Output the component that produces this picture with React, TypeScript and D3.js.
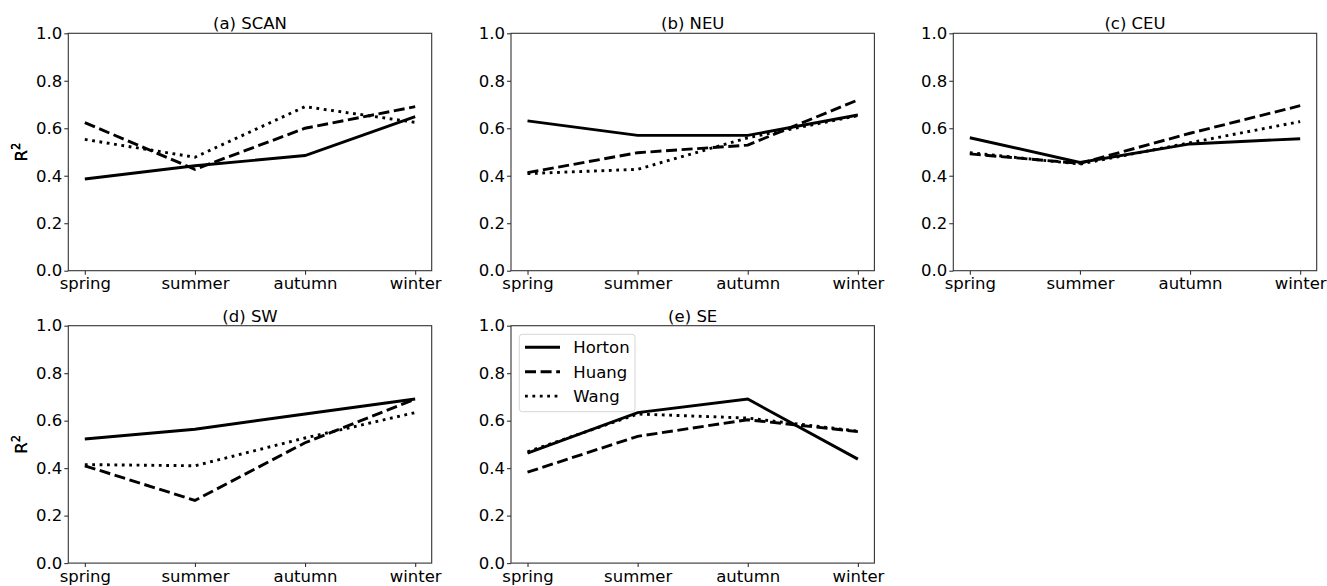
import { useEffect, useRef } from "react";
import * as d3 from "d3";

const seasons = ["spring", "summer", "autumn", "winter"];
const regionTitles = ["(a) SCAN", "(b) NEU", "(c) CEU", "(d) SW", "(e) SE"];
const models = ["Horton", "Huang", "Wang"];
const yTicks = [0, 0.2, 0.4, 0.6, 0.8, 1.0];

// R² per region (SCAN, NEU, CEU, SW, SE), per season
const hortonR2 = [
  [0.386, 0.442, 0.485, 0.649],
  [0.631, 0.57, 0.57, 0.656],
  [0.56, 0.456, 0.534, 0.556],
  [0.523, 0.564, 0.628, 0.691],
  [0.463, 0.634, 0.691, 0.438],
];
const huangR2 = [
  [0.624, 0.427, 0.6, 0.691],
  [0.413, 0.497, 0.529, 0.719],
  [0.492, 0.452, 0.579, 0.695],
  [0.41, 0.264, 0.507, 0.691],
  [0.383, 0.534, 0.604, 0.554],
];
const wangR2 = [
  [0.553, 0.478, 0.691, 0.625],
  [0.409, 0.427, 0.56, 0.653],
  [0.497, 0.449, 0.539, 0.628],
  [0.415, 0.41, 0.527, 0.634],
  [0.469, 0.628, 0.611, 0.556],
];

const WIDTH = 1327;
const HEIGHT = 586;
const FONT = "'DejaVu Sans', sans-serif";
const FS = 16.5;
const dashes = ["none", "11,4.6", "2.8,4.6"];

export default function App() {
  const svgRef = useRef<SVGSVGElement>(null);

  useEffect(() => {
    if (!svgRef.current) return;
    const svg = d3.select(svgRef.current);
    svg.selectAll("*").remove();

    const colX = [68.3, 511, 953.3];
    const rowY = [33.3, 325.7];
    const w = 363.4;
    const h = 237.4;
    const series = [hortonR2, huangR2, wangR2];

    const x = d3.scalePoint<string>().domain(seasons).range([0, w]).padding(0.15);
    const y = d3.scaleLinear().domain([0, 1]).range([h, 0]);

    regionTitles.forEach((title, i) => {
      const g = svg
        .append("g")
        .attr("transform", `translate(${colX[i % 3]},${rowY[Math.floor(i / 3)]})`);

      // axes
      g.append("g")
        .attr("transform", `translate(0,${h})`)
        .call(d3.axisBottom(x).tickSize(4).tickPadding(3))
        .call((a) => a.select(".domain").remove())
        .call((a) => a.selectAll(".tick line").attr("stroke", "#333").attr("stroke-width", 1.1))
        .call((a) =>
          a.selectAll("text").attr("fill", "#000").attr("font-size", FS).attr("font-family", FONT)
        );

      g.append("g")
        .call(
          d3
            .axisLeft(y)
            .tickValues(yTicks)
            .tickFormat(d3.format(".1f"))
            .tickSize(4)
            .tickPadding(2)
        )
        .call((a) => a.select(".domain").remove())
        .call((a) => a.selectAll(".tick line").attr("stroke", "#333").attr("stroke-width", 1.1))
        .call((a) =>
          a.selectAll("text").attr("fill", "#000").attr("font-size", FS).attr("font-family", FONT)
        );

      // data lines
      const line = d3
        .line<number>()
        .x((_, j) => x(seasons[j]) as number)
        .y((d) => y(d));

      series.forEach((s, k) => {
        g.append("path")
          .datum(s[i])
          .attr("d", line)
          .attr("fill", "none")
          .attr("stroke", "#000")
          .attr("stroke-width", 2.9)
          .attr("stroke-dasharray", dashes[k])
          .attr("stroke-linecap", "butt");
      });

      // frame
      g.append("rect")
        .attr("width", w)
        .attr("height", h)
        .attr("fill", "none")
        .attr("stroke", "#333")
        .attr("stroke-width", 1.1);

      g.append("text")
        .attr("x", w / 2)
        .attr("y", -4)
        .attr("text-anchor", "middle")
        .attr("font-size", FS)
        .attr("font-family", FONT)
        .text(title);

      // y label: R with superscript 2
      const yl = g
        .append("text")
        .attr("transform", `translate(${27 - colX[i % 3]},${h / 2}) rotate(-90)`)
        .attr("text-anchor", "middle")
        .attr("font-size", FS)
        .attr("font-family", FONT);
      yl.append("tspan").text("R");
      yl.append("tspan").attr("font-size", 11.5).attr("dy", -7).text("2");

      // legend in last panel
      if (i === 4) {
        const lg = g.append("g").attr("transform", "translate(8.3,8.6)");
        lg.append("rect")
          .attr("width", 115.7)
          .attr("height", 77.4)
          .attr("rx", 3)
          .attr("fill", "#fff")
          .attr("fill-opacity", 0.8)
          .attr("stroke", "#d6d6d6")
          .attr("stroke-width", 1);
        models.forEach((m, k) => {
          const cy = 13 + k * 24.4;
          lg.append("line")
            .attr("x1", 5.7)
            .attr("x2", 40.7)
            .attr("y1", cy)
            .attr("y2", cy)
            .attr("stroke", "#000")
            .attr("stroke-width", 2.9)
            .attr("stroke-dasharray", dashes[k]);
          lg.append("text")
            .attr("x", 54)
            .attr("y", cy + 5.9)
            .attr("font-size", FS)
            .attr("font-family", FONT)
            .text(m);
        });
      }
    });
  }, []);

  return (
    <svg
      ref={svgRef}
      width={WIDTH}
      height={HEIGHT}
      style={{ position: "absolute", left: 0, top: 0, background: "#fff" }}
      role="img"
      aria-label="Seasonal R² of Horton, Huang and Wang for five regions"
    />
  );
}
